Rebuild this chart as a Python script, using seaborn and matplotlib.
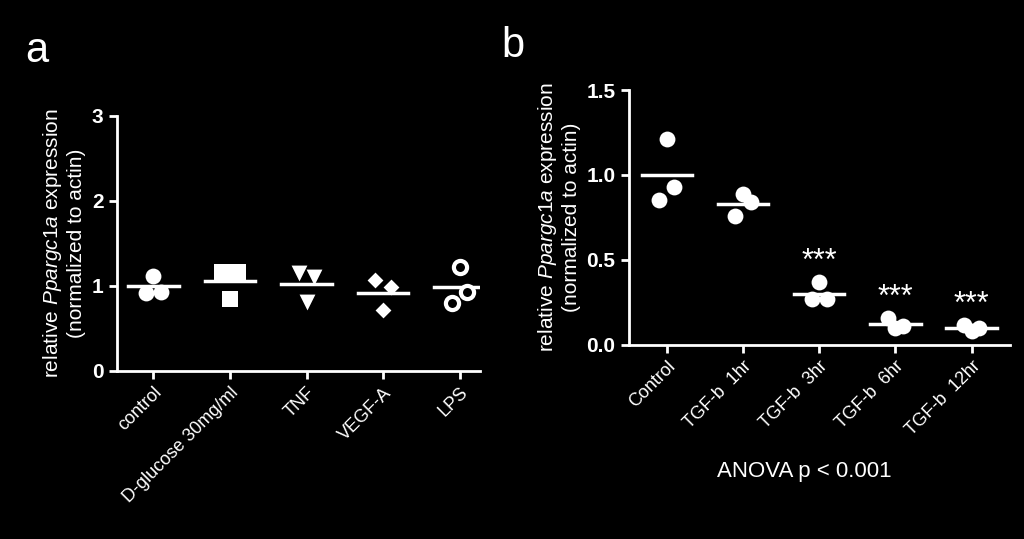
import numpy as np
import pandas as pd
import matplotlib
matplotlib.use("Agg")
import matplotlib.pyplot as plt
import seaborn as sns

plt.rcParams["font.family"] = "Liberation Sans"
plt.rcParams["mathtext.fontset"] = "custom"
plt.rcParams["mathtext.it"] = "Liberation Sans:italic"
plt.rcParams["mathtext.rm"] = "Liberation Sans"

# panel a
cats_a = ["control", "D-glucose 30mg/ml", "TNF", "VEGF-A", "LPS"]
vals_a = [[1.12, 0.92, 0.93], [1.16, 1.16, 0.84], [1.15, 1.10, 0.81],
          [1.07, 0.99, 0.71], [1.22, 0.93, 0.80]]
means_a = [1.00, 1.06, 1.02, 0.92, 0.99]
markers_a = ["o", "s", "v", "D", "o"]
offs_a = [[0.0, -0.1, 0.1], [-0.1, 0.1, 0.0], [-0.1, 0.1, 0.0], [-0.1, 0.1, 0.0], [0.0, 0.1, -0.1]]

# panel b
cats_b = ["Control", "TGF-b  1hr", "TGF-b  3hr", "TGF-b  6hr", "TGF-b  12hr"]
vals_b = [[1.21, 0.93, 0.85], [0.89, 0.84, 0.76], [0.37, 0.27, 0.27],
          [0.16, 0.10, 0.11], [0.12, 0.08, 0.10]]
means_b = [1.00, 0.83, 0.30, 0.125, 0.10]
stars_b = ["", "", "***", "***", "***"]
offs_b = [[0.0, 0.1, -0.1], [0.0, 0.1, -0.1], [0.0, 0.1, -0.1], [-0.1, 0.0, 0.1], [-0.1, 0.0, 0.1]]

fig = plt.figure(figsize=(10.24, 5.39), dpi=100, facecolor="black")
axa = fig.add_axes([0.114, 0.312, 0.355, 0.473])
axb = fig.add_axes([0.614, 0.36, 0.372, 0.473])

def style(ax):
    ax.set_facecolor("black")
    for s in ["top", "right"]:
        ax.spines[s].set_visible(False)
    for s in ["left", "bottom"]:
        ax.spines[s].set_color("white")
        ax.spines[s].set_linewidth(2)
    ax.tick_params(colors="white", width=2, length=6)
    ax.tick_params(axis="y", labelsize=15)
    for t in ax.get_yticklabels():
        t.set_fontweight("bold")

ylab = "relative $\\it{Ppargc1a}$ expression\n(normalized to actin)"

# a
style(axa)
for i, (v, m, mk, o) in enumerate(zip(vals_a, means_a, markers_a, offs_a)):
    df = pd.DataFrame({"x": np.array(o) + i, "y": v})
    open_m = (i == 4)
    sns.scatterplot(data=df, x="x", y="y", ax=axa, marker=mk,
                    s={"o": 130, "s": 120, "v": 130, "D": 65}[mk] if not open_m else 90,
                    color="black" if open_m else "white", edgecolor="white",
                    linewidth=3 if open_m else 0, legend=False, zorder=3)
    axa.plot([i - 0.33, i + 0.33], [m, m], color="white", lw=2.5)
axa.set_xlim(-0.48, 4.27)
axa.set_ylim(0, 3)
axa.set_yticks([0, 1, 2, 3])
axa.set_xticks(range(5))
axa.set_xticklabels(cats_a, rotation=45, ha="right", rotation_mode="anchor", fontsize=13)
for t in axa.get_yticklabels():
    t.set_fontweight("bold")
axa.set_xlabel("")
axa.set_ylabel(ylab, color="white", fontsize=15)

# b
style(axb)
for i, (v, m, o, st) in enumerate(zip(vals_b, means_b, offs_b, stars_b)):
    df = pd.DataFrame({"x": np.array(o) + i, "y": v})
    sns.scatterplot(data=df, x="x", y="y", ax=axb, marker="o", s=130, color="white",
                    linewidth=0, legend=False, zorder=3)
    axb.plot([i - 0.33, i + 0.33], [m, m], color="white", lw=2.5)
    if st:
        axb.text(i, max(v) + 0.03, st, color="white", ha="center", va="bottom", fontsize=22)
axb.set_xlim(-0.5, 4.5)
axb.set_ylim(0, 1.5)
axb.set_yticks([0, 0.5, 1.0, 1.5])
axb.set_yticklabels(["0.0", "0.5", "1.0", "1.5"], fontweight="bold")
axb.set_xticks(range(5))
axb.set_xticklabels(cats_b, rotation=45, ha="right", rotation_mode="anchor", fontsize=13)
axb.set_xlabel("")
axb.set_ylabel(ylab, color="white", fontsize=15)

fig.text(0.025, 0.885, "a", color="white", fontsize=30)
fig.text(0.49, 0.895, "b", color="white", fontsize=30)
fig.text(0.785, 0.115, "ANOVA p < 0.001", color="white", fontsize=16, ha="center")

fig.savefig("out.png", dpi=100, facecolor="black")
